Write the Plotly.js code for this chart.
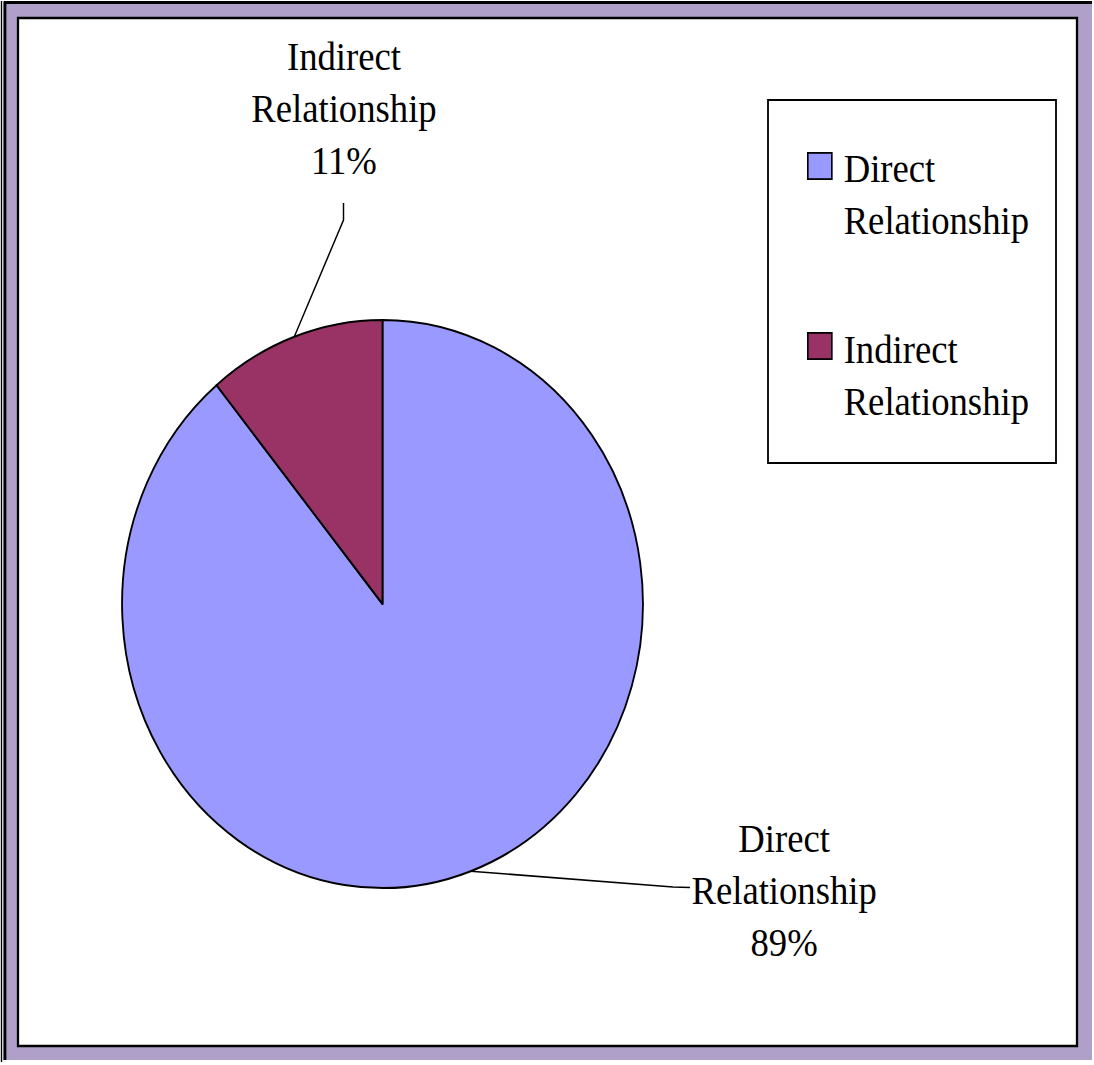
<!DOCTYPE html>
<html><head><meta charset="utf-8">
<script src="https://cdn.plot.ly/plotly-3.0.1.min.js"></script>
<style>
html,body{margin:0;padding:0;background:#fff;overflow:hidden}
#wrap{width:1094px;height:1065px;overflow:hidden}
#chart{width:1193px;height:1065px;transform:scaleX(0.917016);transform-origin:0 0}
</style>
</head><body><div id="wrap"><div id="chart"></div></div>
<script>
// ---- data ----
const categories = ["Direct Relationship", "Indirect Relationship"];
const values = [89, 11];
const colors = ["#9999FF", "#993366"];

// ---- helpers (screen px -> paper fractions) ----
const PW = 1094, PH = 1065, W = 1193;
const px = x => x / PW;
const py = y => 1 - y / PH;
const FONT = "Liberation Serif, Times New Roman, serif";
const FS = 40;

const total = values.reduce((a, b) => a + b, 0);
const pct = values.map(v => Math.round(v / total * 100) + "%");
const twoLine = categories.map(c => c.replace(" ", "<br>"));

// pie domain
const dom = {x: [px(122), px(643)], y: [py(888), py(320)]};
const cx = (dom.x[0] + dom.x[1]) / 2, cy = (dom.y[0] + dom.y[1]) / 2;
const rpx = Math.min((dom.x[1] - dom.x[0]) * W, (dom.y[1] - dom.y[0]) * PH) / 2;
const rx = rpx / W, ry = rpx / PH;

// slice mid-angle edge points (clockwise from top)
let cum = 0;
const edge = values.map(v => {
  const th = 2 * Math.PI * (cum + v / 2) / total; cum += v;
  return [cx + rx * Math.sin(th), cy + ry * Math.cos(th)];
});

const trace = {
  type: "pie",
  labels: categories,
  values: values,
  sort: false,
  direction: "clockwise",
  rotation: 0,
  marker: {colors: colors, line: {color: "#000", width: 2}},
  textinfo: "none",
  hoverinfo: "skip",
  showlegend: false,
  domain: dom
};

const PURPLE = "#AEA0C8";
const shapes = [
  {type: "rect", xref: "paper", yref: "paper", x0: px(3), x1: px(1092), y0: py(1060), y1: py(2), fillcolor: PURPLE, line: {width: 0}, layer: "below"},
  {type: "path", xref: "paper", yref: "paper", path: `M${px(5)},${py(1060)} L${px(5)},${py(2.5)} L${px(1092)},${py(2.5)}`, line: {color: "#000", width: 3}, layer: "below"},
  {type: "path", xref: "paper", yref: "paper", path: `M${px(1.5)},${py(1062)} L${px(1.5)},${py(1)}`, line: {color: "#000", width: 1.5}, layer: "below"},
  {type: "rect", xref: "paper", yref: "paper", x0: px(18), x1: px(1077), y0: py(1046), y1: py(18), fillcolor: "#fff", line: {color: "#000", width: 2.5}, layer: "below"},
  // legend box
  {type: "rect", xref: "paper", yref: "paper", x0: px(768), x1: px(1056), y0: py(463), y1: py(100), fillcolor: "#fff", line: {color: "#000", width: 2}, layer: "below"},
  // leader lines
  {type: "path", xref: "paper", yref: "paper", path: `M${edge[1][0]},${edge[1][1]} L${px(343.5)},${py(220)} L${px(343.5)},${py(203)}`, line: {color: "#000", width: 1.6}},
  {type: "path", xref: "paper", yref: "paper", path: `M${edge[0][0]},${edge[0][1]} L${px(673)},${py(887)} L${px(690)},${py(887.5)}`, line: {color: "#000", width: 1.6}}
];

const font = {family: FONT, size: FS, color: "#000"};
const annotations = [
  // slice labels
  {xref: "paper", yref: "paper", x: px(784), y: py(815), xanchor: "center", yanchor: "top", showarrow: false, align: "center", borderpad: 0,
   text: twoLine[0] + "<br>" + pct[0], font: font},
  {xref: "paper", yref: "paper", x: px(344), y: py(33), xanchor: "center", yanchor: "top", showarrow: false, align: "center", borderpad: 0,
   text: twoLine[1] + "<br>" + pct[1], font: font}
];
// legend entries
const legY = [[166.3, 144.5], [345.8, 326]];
categories.forEach((c, i) => {
  annotations.push({xref: "paper", yref: "paper", x: px(819.7), y: py(legY[i][0]), xanchor: "center", yanchor: "middle",
    showarrow: false, text: " ", width: 24, height: 24, borderpad: 0, bgcolor: colors[i], bordercolor: "#000", borderwidth: 1.8,
    font: {family: FONT, size: 10}});
  annotations.push({xref: "paper", yref: "paper", x: px(843), y: py(legY[i][1]), xanchor: "left", yanchor: "top",
    showarrow: false, align: "left", borderpad: 0, text: twoLine[i], font: font});
});

const layout = {
  width: W, height: PH,
  margin: {l: 0, r: 0, t: 0, b: 0, pad: 0},
  paper_bgcolor: "#fff",
  showlegend: false,
  shapes: shapes,
  annotations: annotations
};

Plotly.newPlot("chart", [trace], layout, {staticPlot: true, displayModeBar: false});
</script>
</body></html>
